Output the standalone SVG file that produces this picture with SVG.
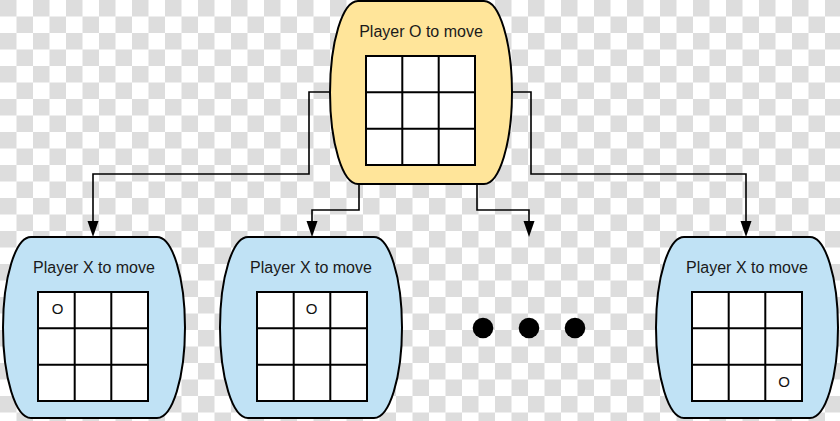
<svg xmlns="http://www.w3.org/2000/svg" width="840" height="421" viewBox="0 0 840 421">
  <defs>
    <pattern id="checker" patternUnits="userSpaceOnUse" width="33" height="33">
      <rect width="33" height="33" fill="#ffffff"/>
      <rect x="0" y="0" width="16.5" height="16.5" fill="#dddddd"/>
      <rect x="16.5" y="16.5" width="16.5" height="16.5" fill="#dddddd"/>
    </pattern>
  </defs>
  <style>
    .label { font-family: "Liberation Sans", Arial, sans-serif; font-size: 16px; fill: #1a1a1a; text-anchor: middle; }
    .mark { font-family: "Liberation Sans", Arial, sans-serif; font-size: 15px; fill: #111; text-anchor: middle; }
    .top { fill: #ffe59a; stroke: #000; stroke-width: 2; }
    .child { fill: #c0e2f5; stroke: #000; stroke-width: 2; }
    .board { fill: #ffffff; stroke: #000; stroke-width: 2; }
    .gridline { stroke: #000; stroke-width: 2; fill: none; }
    .conn { fill: none; stroke: #000; stroke-width: 1.6; }
    .head { fill: #000; }
  </style>

  <rect width="840" height="421" fill="url(#checker)"/>

  <g id="connectors">
    <path class="conn" d="M330 92 H309 V174 H93 V223"/>
    <polygon class="head" points="87.5,221 98.5,221 93,237"/>
    <path class="conn" d="M359 184 V210 H312 V223"/>
    <polygon class="head" points="306.5,221 317.5,221 312,237"/>
    <path class="conn" d="M477 184 V210 H529 V223"/>
    <polygon class="head" points="523.5,221 534.5,221 529,237"/>
    <path class="conn" d="M512 92 H531 V174 H746 V223"/>
    <polygon class="head" points="740.5,221 751.5,221 746,237"/>
  </g>

  <g id="root">
    <path class="top" d="M358 1 H484 A28 91.5 0 0 1 484 184 H358 A28 91.5 0 0 1 358 1 Z"/>
    <text class="label" x="421" y="37">Player O to move</text>
    <rect class="board" x="366" y="56" width="109" height="109"/>
    <path class="gridline" d="M402.3 56 V165 M438.7 56 V165 M366 92.3 H475 M366 128.7 H475"/>
  </g>

  <g id="child1">
    <path class="child" d="M31 237 H157 A28 90.5 0 0 1 157 418 H31 A28 90.5 0 0 1 31 237 Z"/>
    <text class="label" x="94" y="273">Player X to move</text>
    <rect class="board" x="38" y="292" width="110" height="109"/>
    <path class="gridline" d="M74.7 292 V401 M111.3 292 V401 M38 328.3 H148 M38 364.7 H148"/>
    <text class="mark" x="57.5" y="313.5">O</text>
  </g>

  <g id="child2">
    <path class="child" d="M248 237 H374 A28 90.5 0 0 1 374 418 H248 A28 90.5 0 0 1 248 237 Z"/>
    <text class="label" x="311" y="273">Player X to move</text>
    <rect class="board" x="257" y="292" width="110" height="109"/>
    <path class="gridline" d="M293.7 292 V401 M330.3 292 V401 M257 328.3 H367 M257 364.7 H367"/>
    <text class="mark" x="311.5" y="313.5">O</text>
  </g>

  <g id="ellipsis">
    <circle cx="483" cy="328" r="10.3" fill="#000"/>
    <circle cx="529" cy="328" r="10.3" fill="#000"/>
    <circle cx="575" cy="328" r="10.3" fill="#000"/>
  </g>

  <g id="child4">
    <path class="child" d="M684 237 H810 A28 90.5 0 0 1 810 418 H684 A28 90.5 0 0 1 684 237 Z"/>
    <text class="label" x="747" y="273">Player X to move</text>
    <rect class="board" x="692" y="292" width="110" height="109"/>
    <path class="gridline" d="M728.7 292 V401 M765.3 292 V401 M692 328.3 H802 M692 364.7 H802"/>
    <text class="mark" x="784" y="386.5">O</text>
  </g>
</svg>
